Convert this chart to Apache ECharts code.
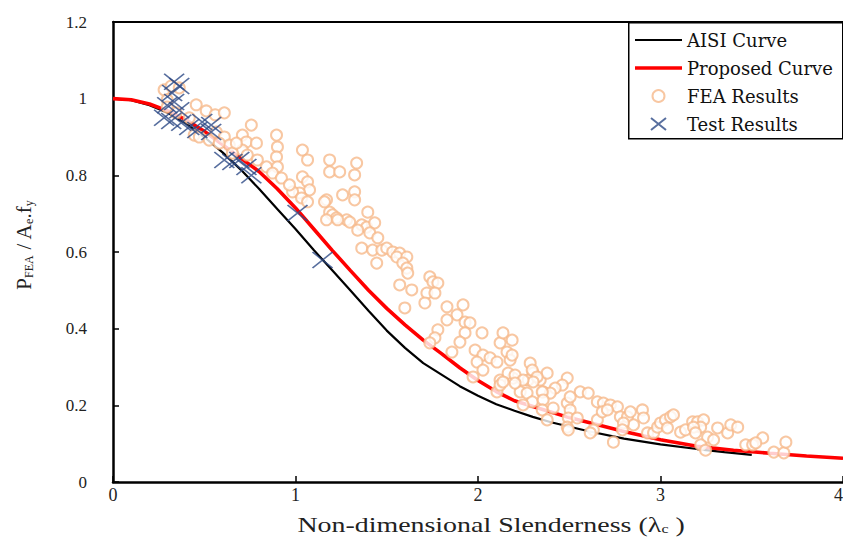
<!DOCTYPE html>
<html>
<head>
<meta charset="utf-8">
<script src="https://cdn.jsdelivr.net/npm/echarts@6/dist/echarts.min.js"></script>
<style>html,body{margin:0;padding:0;background:#fff}#c{width:843px;height:538px}</style>
</head>
<body>
<div id="c"></div>
<script>
var xTicks = [0, 1, 2, 3, 4];
var yTicks = [0, 0.2, 0.4, 0.6, 0.8, 1, 1.2];

var aisiLambda = [0,0.1,0.2,0.3,0.4,0.5,0.6,0.7,0.8,0.9,1.0,1.1,1.2,1.3,1.4,1.5,1.6,1.7,1.8,1.9,2.0,2.1,2.2,2.3,2.4,2.6,2.8,3.0,3.2,3.35,3.5];
var aisiP = [1.0,0.996,0.983,0.963,0.935,0.9,0.86,0.815,0.765,0.712,0.66,0.605,0.553,0.5,0.447,0.395,0.35,0.31,0.28,0.25,0.225,0.203,0.186,0.17,0.156,0.133,0.113,0.098,0.086,0.078,0.071];

var propLambda = [0,0.1,0.2,0.3,0.4,0.5,0.6,0.7,0.8,0.9,1.0,1.1,1.2,1.3,1.4,1.5,1.6,1.7,1.8,1.9,2.0,2.1,2.2,2.35,2.5,2.65,2.8,3.0,3.2,3.4,3.6,3.8,4.0];
var propP = [1.0,0.997,0.986,0.968,0.945,0.915,0.88,0.845,0.81,0.765,0.715,0.66,0.605,0.552,0.5,0.453,0.41,0.37,0.335,0.298,0.265,0.236,0.212,0.19,0.168,0.15,0.132,0.11,0.093,0.083,0.075,0.068,0.062];

var feaLambda = [0.28,0.319,0.363,0.297,0.297,0.346,0.418,0.456,0.511,0.56,0.61,0.758,0.445,0.473,0.527,0.566,0.61,0.637,0.709,0.731,0.709,0.736,0.791,0.841,0.582,0.654,0.676,0.786,
0.896,0.901,0.896,1.038,1.066,1.187,1.187,1.242,0.901,0.874,0.923,1.038,1.066,1.077,1.022,0.984,1.033,1.258,1.17,1.187,1.203,1.225,1.28,0.967,1.066,1.159,1.324,1.324,1.396,1.17,1.231,1.297,1.363,1.39,1.434,1.341,1.407,1.451,1.363,1.423,1.473,1.5,1.533,1.571,1.555,1.61,1.588,1.61,1.615,1.445,1.571,1.637,1.599,1.736,1.753,1.78,1.72,1.764,1.709,1.83,1.918,1.885,1.83,1.78,1.929,1.956,2.022,1.929,1.901,1.857,1.764,1.736,1.984,2.027,2.121,2.159,2.066,2.104,2.176,1.995,2.027,1.973,2.121,2.192,2.286,2.302,2.341,2.275,2.104,2.231,2.357,2.121,1.335,1.324,
2.137,2.187,2.187,2.297,2.165,2.203,2.379,2.324,2.302,2.247,2.203,2.137,2.489,2.462,2.423,2.396,2.352,2.269,2.297,2.247,2.357,2.352,2.412,2.489,2.56,2.604,2.505,2.505,2.495,2.379,2.544,2.654,2.654,2.687,2.725,2.764,2.681,2.709,2.78,2.819,2.835,2.901,2.907,2.852,2.797,2.791,2.742,2.632,2.615,2.489,2.495,2.929,2.962,2.984,3.0,3.027,3.055,3.071,3.038,3.11,3.137,3.176,3.203,3.236,3.22,3.181,3.192,3.258,3.313,3.291,3.22,3.247,3.368,3.385,3.423,3.467,3.505,3.56,3.522,3.621,3.676,3.687];
var feaP = [1.023,1.033,1.028,0.997,0.978,0.963,0.95,0.984,0.968,0.958,0.963,0.931,0.905,0.9,0.892,0.913,0.9,0.879,0.905,0.887,0.866,0.853,0.84,0.822,0.884,0.858,0.884,0.884,
0.905,0.874,0.848,0.866,0.84,0.84,0.809,0.809,0.822,0.806,0.793,0.796,0.783,0.762,0.754,0.757,0.741,0.749,0.736,0.704,0.697,0.689,0.684,0.775,0.731,0.731,0.757,0.736,0.704,0.684,0.684,0.678,0.671,0.665,0.676,0.657,0.65,0.637,0.61,0.605,0.605,0.61,0.6,0.597,0.587,0.587,0.571,0.558,0.545,0.571,0.514,0.501,0.454,0.535,0.522,0.519,0.493,0.493,0.467,0.457,0.462,0.436,0.423,0.397,0.417,0.415,0.389,0.389,0.365,0.339,0.376,0.363,0.344,0.331,0.363,0.339,0.324,0.313,0.318,0.313,0.292,0.274,0.266,0.271,0.31,0.284,0.266,0.266,0.235,0.235,0.235,0.253,0.832,0.801,
0.389,0.37,0.331,0.292,0.284,0.279,0.284,0.274,0.261,0.266,0.258,0.261,0.271,0.253,0.245,0.232,0.235,0.232,0.209,0.201,0.214,0.188,0.193,0.206,0.235,0.232,0.222,0.188,0.167,0.162,0.167,0.162,0.209,0.206,0.201,0.196,0.183,0.188,0.17,0.17,0.183,0.188,0.167,0.149,0.154,0.136,0.104,0.136,0.128,0.143,0.136,0.128,0.128,0.143,0.154,0.162,0.17,0.175,0.141,0.13,0.136,0.157,0.157,0.162,0.143,0.143,0.128,0.117,0.141,0.11,0.097,0.083,0.128,0.149,0.143,0.097,0.097,0.115,0.102,0.078,0.076,0.104];

var testLambda = [0.335,0.363,0.324,0.335,0.297,0.363,0.28,0.319,0.374,0.418,0.489,0.538,0.462,0.538,0.61,0.654,0.692,0.731,0.758,1.011,1.148];
var testP = [1.044,1.033,1.015,0.991,0.983,0.97,0.95,0.942,0.937,0.926,0.939,0.931,0.918,0.913,0.84,0.835,0.84,0.822,0.80,0.702,0.579];

function zip(a, b) { return a.map(function (v, i) { return [v, b[i]]; }); }

var serif = 'Liberation Serif';
var chart = echarts.init(document.getElementById('c'), null, {renderer: 'svg'});
chart.setOption({
  animation: false,
  backgroundColor: '#fff',
  grid: {left: 113, right: 0, top: 22, bottom: 56, outerBoundsMode: 'none', containLabel: false},
  graphic: [{
    type: 'rect', z: 5, left: 628, top: 22,
    shape: {width: 214, height: 116},
    style: {fill: '#fff', stroke: '#000', lineWidth: 1.5}
  }, {
    type: 'text', z: 5, x: 491, y: 525, scaleX: 1.33,
    style: {
      text: '{t|Non-dimensional Slenderness (λ}{s|c}{t| )}',
      align: 'center', verticalAlign: 'middle',
      rich: {
        t: {fontFamily: serif, fontSize: 21, fill: '#222'},
        s: {fontFamily: serif, fontSize: 12, fill: '#222', padding: [8, 0, 0, 0]}
      }
    }
  }],
  legend: {
    z: 10, left: 635, top: 31, padding: 0, orient: 'vertical', itemWidth: 47, itemHeight: 12, itemGap: 10,
    selectedMode: false,
    textStyle: {fontFamily: 'DejaVu Serif', fontSize: 18, color: '#111'},
    data: [
      {name: 'AISI Curve', icon: 'path://M0,0L47,0L47,2.2L0,2.2Z'},
      {name: 'Proposed Curve', icon: 'path://M0,0L47,0L47,3.6L0,3.6Z'},
      {name: 'FEA Results'},
      {name: 'Test Results'}
    ]
  },
  xAxis: [{
    type: 'value', min: xTicks[0], max: xTicks[xTicks.length - 1], interval: 1,
    axisLine: {show: true, onZero: false, lineStyle: {color: '#000', width: 2.5}},
    axisTick: {show: true, inside: true, length: 6, lineStyle: {color: '#000', width: 1.5}},
    axisLabel: {margin: 4, fontFamily: serif, fontSize: 18, color: '#222', alignMaxLabel: 'right'},
    splitLine: {show: false}
  }, {
    type: 'value', position: 'top', min: 0, max: 4,
    axisLine: {show: true, onZero: false, lineStyle: {color: '#000', width: 2}},
    axisTick: {show: false}, axisLabel: {show: false}, splitLine: {show: false}
  }],
  yAxis: {
    type: 'value', min: yTicks[0], max: yTicks[yTicks.length - 1], interval: 0.2,
    axisLine: {show: true, onZero: false, lineStyle: {color: '#000', width: 2.5}},
    axisTick: {show: true, inside: true, length: 6, lineStyle: {color: '#000', width: 1.5}},
    axisLabel: {margin: 26, fontFamily: serif, fontSize: 17, color: '#222'},
    splitLine: {show: false},
    name: '{b|P}{s|FEA}{b| / A}{s|e}{b|.f}{s|y}',
    nameLocation: 'middle', nameGap: 78,
    nameTextStyle: {padding: [0, 0, 0, 14], rich: {
      b: {fontFamily: serif, fontSize: 21, color: '#222'},
      s: {fontFamily: serif, fontSize: 12, color: '#222', padding: [10, 0, 0, 0]}
    }}
  },
  series: [{
    name: 'AISI Curve', type: 'line', symbol: 'none', z: 2,
    lineStyle: {color: '#000', width: 2.2},
    itemStyle: {color: '#000'},
    data: zip(aisiLambda, aisiP)
  }, {
    name: 'Proposed Curve', type: 'line', symbol: 'none', z: 2,
    lineStyle: {color: '#ff0000', width: 3.6},
    itemStyle: {color: '#ff0000'},
    data: zip(propLambda, propP)
  }, {
    name: 'FEA Results', type: 'scatter', symbol: 'emptyCircle', symbolSize: 11, z: 3,
    itemStyle: {color: '#f6b98b', borderWidth: 2.5},
    data: zip(feaLambda, feaP)
  }, {
    name: 'Test Results', type: 'scatter', z: 4,
    symbol: 'path://M0,0L10,8M10,0L0,8', symbolSize: [20, 16], symbolKeepAspect: false,
    itemStyle: {color: 'none', borderColor: '#2d4a86', borderWidth: 1.6},
    data: zip(testLambda, testP)
  }]
});
</script>
</body>
</html>
